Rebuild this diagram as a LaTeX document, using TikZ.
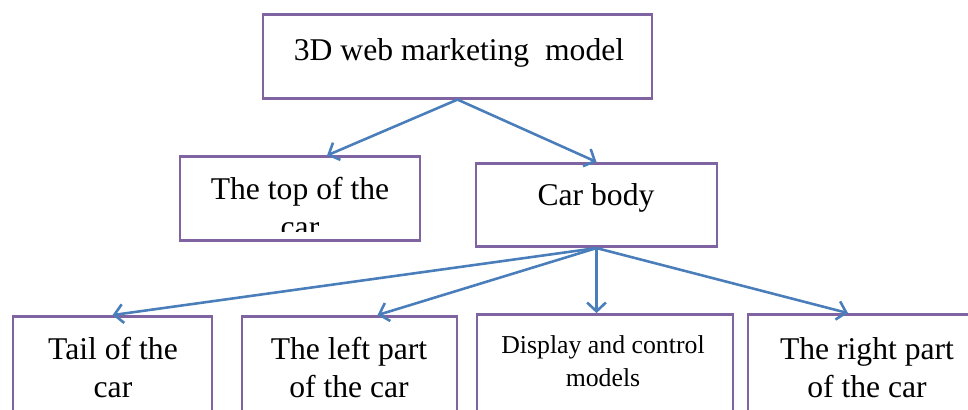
\documentclass[tikz,border=0pt]{standalone}
\usepackage{fontspec}
\setmainfont{Liberation Serif}
\usetikzlibrary{arrows.meta,calc}
\definecolor{boxpurple}{HTML}{8064A2}
\definecolor{flowblue}{HTML}{4A7EBB}
\begin{document}
\begin{tikzpicture}[
  x=0.03cm, y=-0.03cm,
  part/.style={shape=rectangle,draw=boxpurple,line width=2.4pt,minimum height=2.5cm},
  low/.style={part,minimum height=3.45cm},
  txt/.style={align=center,anchor=base,inner sep=0pt,font=\fontsize{27}{32.4}\selectfont},
  flow/.style={draw=flowblue,line width=2.2pt,-{Straight Barb[length=7.5pt,width=16pt]}}
]
  \useasboundingbox (0,0) rectangle (968,409);

  \node[part,minimum width=11.67cm] (model)   at (457.5,56.5) {};
  \node[part,minimum width=7.2cm]   (top)     at (300,198.5)  {};
  \node[part,minimum width=7.23cm]  (body)    at (596.5,205)  {};
  \node[low,minimum width=5.97cm]   (tail)    at (112.5,374)  {};
  \node[low,minimum width=6.45cm]   (left)    at (349.5,374)  {};
  \node[low,minimum width=7.68cm]   (display) at (605,372)    {};
  \node[low,minimum width=7.26cm]   (right)   at (869,372)    {};

  \node[txt] (modeltext) at (459,60)  {3D web marketing \ model};
  \begin{scope}
    \clip (180,157) rectangle (420,231);
    \node[txt] (toptext) at (300,237) {The top of the\\car};
  \end{scope}
  \node[txt] (bodytext)    at (596,205) {Car body};
  \node[txt] (tailtext)    at (113,397) {Tail of the\\car};
  \node[txt] (lefttext)    at (349,397) {The left part\\of the car};
  \node[txt,font=\fontsize{22}{28}\selectfont] (displaytext) at (603,386) {Display and control\\models};
  \node[txt] (righttext)   at (867,397) {The right part\\of the car};

  \draw[flow] (model.south) -- ($(top.north)+(27,0)$);
  \draw[flow] (model.south) -- (body.north);

  \draw[flow] (body.south) -- (tail.north);
  \draw[flow] (body.south) -- ($(left.north)+(28,0)$);
  \draw[flow] (body.south) -- (body.south |- display.north);
  \draw[flow] (body.south) -- ($(right.north)+(-21,0)$);
\end{tikzpicture}
\end{document}
